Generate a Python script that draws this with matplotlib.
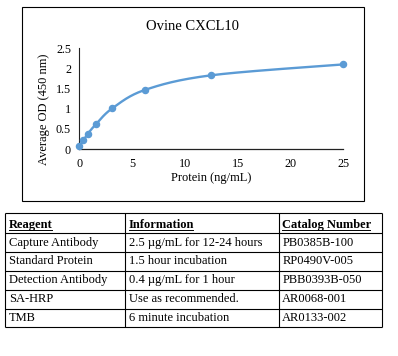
import numpy as np
import matplotlib
matplotlib.use("Agg")
import matplotlib.pyplot as plt
from matplotlib.patches import Rectangle

# ---- data ----
conc = [0, 0.39, 0.78, 1.56, 3.125, 6.25, 12.5, 25]
od = [0.075, 0.215, 0.37, 0.61, 1.01, 1.47, 1.83, 2.10]
title = "Ovine CXCL10"
xlabel = "Protein (ng/mL)"
ylabel = "Average OD (450 nm)"
xticks = [0, 5, 10, 15, 20, 25]
yticks = [0, 0.5, 1, 1.5, 2, 2.5]
ytick_labels = ["0", "0.5", "1", "1.5", "2", "2.5"]

col_headers = ["Reagent", "Information", "Catalog Number"]
reagents = ["Capture Antibody", "Standard Protein", "Detection Antibody", "SA-HRP", "TMB"]
info = ["2.5 \u00b5g/mL for 12-24 hours", "1.5 hour incubation", "0.4 \u00b5g/mL for 1 hour",
        "Use as recommended.", "6 minute incubation"]
catalog = ["PB0385B-100", "RP0490V-005", "PBB0393B-050", "AR0068-001", "AR0133-002"]

plt.rcParams['font.family'] = ['Liberation Serif', 'DejaVu Serif']

W, H = 398, 356
fig = plt.figure(figsize=(W / 100, H / 100), dpi=100)

def fx(px):
    return px / W

def fy(py):
    return 1 - py / H

# chart outer box
fig.patches.append(Rectangle((fx(22), fy(201)), fx(364) - fx(22), fy(7) - fy(201),
                             transform=fig.transFigure, fill=False, edgecolor='#000000', lw=0.8))

# ---- chart ----
ax_l, ax_r, ax_b, ax_t = 79.3, 343.3, 149, 48.3
ax = fig.add_axes([fx(ax_l), fy(ax_b), fx(ax_r) - fx(ax_l), fy(ax_t) - fy(ax_b)])
ax.set_xlim(0, 25)
ax.set_ylim(0, 2.5)

# Excel-like smoothed line (Catmull-Rom / Bezier)
x = np.array(conc, float)
y = np.array(od, float)
px = np.concatenate([[x[0]], x, [x[-1]]])
py = np.concatenate([[y[0]], y, [y[-1]]])
sx, sy = [], []
t = np.linspace(0, 1, 40)
for i in range(1, len(px) - 2):
    p0 = np.array([px[i], py[i]])
    p3 = np.array([px[i + 1], py[i + 1]])
    c1 = p0 + (np.array([px[i + 1], py[i + 1]]) - np.array([px[i - 1], py[i - 1]])) / 6
    c2 = p3 - (np.array([px[i + 2], py[i + 2]]) - np.array([px[i], py[i]])) / 6
    b = ((1 - t) ** 3)[:, None] * p0 + (3 * (1 - t) ** 2 * t)[:, None] * c1 + \
        (3 * (1 - t) * t ** 2)[:, None] * c2 + (t ** 3)[:, None] * p3
    sx.extend(b[:, 0]); sy.extend(b[:, 1])
ax.plot(sx, sy, color='#5B9BD5', lw=1.7, clip_on=False, zorder=3)
ax.plot(conc, od, 'o', color='#5B9BD5', ms=4.4, clip_on=False, zorder=4)

for s in ['top', 'right']:
    ax.spines[s].set_visible(False)
ax.spines['left'].set_color('#222222')
ax.spines['bottom'].set_color('#222222')
ax.spines['left'].set_linewidth(0.8)
ax.spines['bottom'].set_linewidth(0.9)
ax.set_xticks(xticks)
ax.set_yticks(yticks)
ax.set_yticklabels(ytick_labels)
ax.tick_params(length=0, labelsize=8.7, colors='#000000')
ax.tick_params(axis='y', pad=6)
ax.tick_params(axis='x', pad=6.5)
ax_h = ax_b - ax_t
ax_w = ax_r - ax_l
ax.set_xlabel(xlabel, fontsize=9, va='center')
ax.xaxis.set_label_coords((211 - ax_l) / ax_w, (ax_b - 177.5) / ax_h)
ax.set_ylabel(ylabel, fontsize=9, va='center', ha='center')
ax.yaxis.set_label_coords((44.5 - ax_l) / ax_w, (ax_b - 109) / ax_h)
fig.text(fx(192), fy(29.5), title, fontsize=10.5, ha='center', va='baseline')

# ---- table ----
tl, tr = 5.3, 382
col_x = [5.3, 125.3, 278.7, 382]
row_y = [212.7, 233.3, 252.1, 270.9, 289.7, 308.5, 327.3]
tax = fig.add_axes([fx(tl), fy(row_y[-1]), fx(tr) - fx(tl), fy(row_y[0]) - fy(row_y[-1])])
tax.set_xlim(tl, tr)
tax.set_ylim(row_y[-1], row_y[0])
tax.axis('off')
tax.hlines(row_y, tl, tr, color='#000000', lw=0.8, clip_on=False)
tax.vlines(col_x, row_y[0], row_y[-1], color='#000000', lw=0.8, clip_on=False)

fig.canvas.draw()
renderer = fig.canvas.get_renderer()
hdr_base = 228.3
for j, h in enumerate(col_headers):
    tx = tax.text(col_x[j] + 3.5, hdr_base, h, fontsize=9, fontweight='bold', ha='left', va='baseline')
    bb = tx.get_window_extent(renderer=renderer)
    w = bb.width
    tax.plot([col_x[j] + 3.5, col_x[j] + 3.5 + w - 1], [hdr_base + 1.3, hdr_base + 1.3],
             color='#000000', lw=0.7)

cols = [reagents, info, catalog]
for i in range(len(reagents)):
    yc = (row_y[i + 1] + row_y[i + 2]) / 2
    for j in range(3):
        tax.text(col_x[j] + 3.5, yc, cols[j][i], fontsize=9, ha='left', va='center')

fig.savefig("out.png", dpi=100)
